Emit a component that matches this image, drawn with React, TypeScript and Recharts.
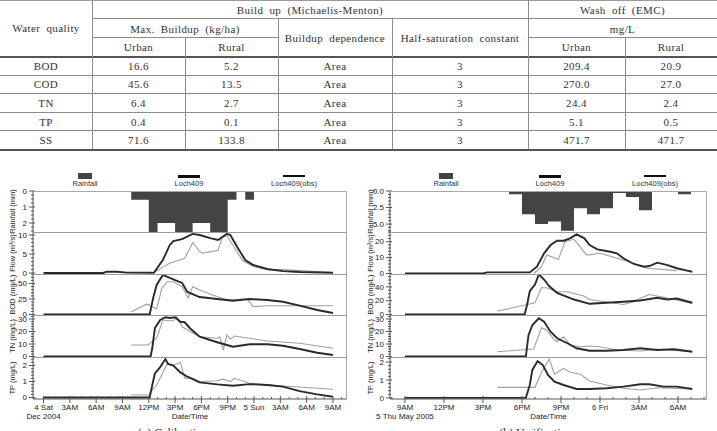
import React from 'react';
import { ComposedChart, Line, Area, XAxis, YAxis } from 'recharts';

type Pt = [number, number];

// ---------- table values ----------
const qualityNames = ['BOD', 'COD', 'TN', 'TP', 'SS'];
const maxBuildupUrban = ['16.6', '45.6', '6.4', '0.4', '71.6'];
const maxBuildupRural = ['5.2', '13.5', '2.7', '0.1', '133.8'];
const buildupDependence = ['Area', 'Area', 'Area', 'Area', 'Area'];
const halfSaturation = ['3', '3', '3', '3', '3'];
const emcUrban = ['209.4', '270.0', '24.4', '5.1', '471.7'];
const emcRural = ['20.9', '27.0', '2.4', '0.5', '471.7'];

// ---------- (a) calibration, hours from 4 Dec 2004 00:00 ----------
const calTickHours = [0, 3, 6, 9, 12, 15, 18, 21, 24, 27, 30, 33];
const calTickLabels = ['4 Sat', '3AM', '6AM', '9AM', '12PM', '3PM', '6PM', '9PM', '5 Sun', '3AM', '6AM', '9AM'];

const calRain: Pt[] = [[9, 0], [10, 0.55], [11, 0.55], [12, 2.6], [13, 2.0], [14, 2.0], [15, 2.6], [16, 2.6], [17, 2.0], [18, 2.0], [19, 2.6], [20, 2.6], [21, 0.55], [22, 0], [23, 0.55], [24, 0], [25, 0]];
const calFlowSim: Pt[] = [[0, 0], [6.8, 0], [7.2, 0.35], [8.4, 0.35], [9.5, 0.1], [12.4, 0.05], [12.6, 0.1], [13.6, 3.4], [14.4, 7.4], [14.8, 8.4], [15.8, 8.9], [17.0, 10.3], [17.8, 10.0], [19.0, 9.2], [19.9, 8.7], [20.9, 10.3], [21.3, 10.0], [22.1, 6.8], [23.0, 3.4], [23.9, 2.1], [25.5, 1.05], [27.3, 0.5], [29.2, 0.26], [33, 0.08]];
const calFlowObs: Pt[] = [[12.5, 0], [14.4, 2.6], [16.1, 3.9], [17.0, 8.0], [18.0, 5.2], [18.8, 5.5], [19.9, 6.0], [20.4, 9.5], [20.9, 9.8], [21.6, 7.3], [22.7, 3.3], [23.9, 1.7], [25.5, 0.9], [27.3, 0.9], [33, 0.15]];
const calBodSim: Pt[] = [[0, 0], [12.1, 0], [12.5, 26.6], [12.9, 47.6], [13.6, 63.7], [14.4, 58.9], [15.0, 55.6], [15.8, 50.8], [16.4, 36.3], [17.8, 28.2], [19.8, 25], [21.6, 22.3], [23.5, 25], [25.5, 23.4], [27.3, 20.6], [29.2, 14.2], [31.2, 7.3], [33, 2.4]];
const calBodObs: Pt[] = [[10, 4.5], [11.8, 17], [12.9, 8.9], [13.5, 42.7], [14.1, 52.9], [14.8, 52.9], [15.8, 44.8], [16.5, 26.6], [17.0, 44.8], [17.8, 39.5], [19.3, 31.5], [20.9, 23.4], [23.2, 25], [23.9, 12.6], [25.5, 14.2], [33, 14.2]];
const calTnSim: Pt[] = [[0, 0], [12.2, 0], [12.4, 6.8], [12.7, 22.8], [13.3, 29.2], [13.9, 31.4], [14.4, 30.8], [15.0, 31.4], [15.6, 27.8], [16.1, 27.4], [16.7, 22.6], [17.8, 15.8], [19.8, 11.4], [21.6, 7.8], [23.5, 9.8], [25.5, 9.8], [27.3, 8.6], [29.2, 6], [31.2, 3], [33, 1.2]];
const calTnObs: Pt[] = [[10, 9.2], [11.9, 9.2], [12.9, 14.6], [13.6, 29.2], [14.8, 28.4], [15.2, 31.8], [15.8, 23.8], [16.4, 21.2], [17.8, 15.8], [19.8, 14.6], [20.1, 15.8], [20.5, 5.2], [20.9, 17.2], [21.3, 14], [21.8, 16.4], [25.5, 12.4], [29.2, 10.6], [33, 6.6]];
const calTpSim: Pt[] = [[0, 0], [12.1, 0], [12.4, 0.78], [12.7, 1.5], [13.3, 1.9], [13.9, 2.4], [14.2, 2.1], [14.8, 2.0], [15.6, 1.57], [16.4, 1.3], [17.8, 0.95], [19.8, 0.82], [21.6, 0.74], [23.5, 0.84], [25.5, 0.78], [27.3, 0.68], [29.2, 0.4], [31.2, 0.2], [33, 0.05]];
const calTpObs: Pt[] = [[10, 0.16], [11.9, 0.16], [12.9, 0.78], [14.1, 2.1], [14.8, 2.0], [15.6, 2.2], [16.1, 1.2], [17.0, 1.2], [17.8, 1.0], [19.8, 1.05], [20.5, 1.15], [21.3, 1.0], [21.8, 1.2], [23.5, 0.89], [27.3, 0.72], [33, 0.52]];

// ---------- (b) verification, hours from 5 May 2005 00:00 ----------
const valTickHours = [9, 12, 15, 18, 21, 24, 27, 30];
const valTickLabels = ['9AM', '12PM', '3PM', '6PM', '9PM', '6 Fri', '3AM', '6AM'];

const valRain: Pt[] = [[16, 0], [17, 0.5], [18, 3.5], [19, 5.0], [20, 4.6], [21, 6.0], [22, 2.6], [23, 3.5], [24, 2.6], [25, 0.3], [26, 0.9], [27, 2.9], [28, 0], [29, 0], [30, 0.5], [31, 0]];
const valFlowSim: Pt[] = [[9, 0], [15, 0], [15.3, 0.7], [18.6, 0.7], [19.15, 4.3], [19.7, 12.7], [20.2, 17.9], [20.7, 20.6], [21.2, 20.6], [21.7, 22.1], [22.2, 24.6], [22.8, 22.1], [23.2, 17.9], [23.8, 15.2], [24.8, 13.7], [25.3, 12.7], [25.8, 9.6], [26.6, 6], [27.4, 4.3], [27.8, 4.7], [28.4, 6.8], [29.2, 5.3], [29.9, 3.3], [30.7, 1.8], [31.1, 1.1]];
const valFlowObs: Pt[] = [[18.9, 0], [19.5, 4.3], [19.9, 11.6], [20.8, 8.9], [21.3, 20], [22.0, 21.5], [23.0, 11.6], [24.0, 12.7], [25.8, 8.5], [27.6, 3.3], [29.9, 1.8]];
const valBodSim: Pt[] = [[9, 0], [18.2, 0], [18.4, 14.5], [18.6, 33.8], [19.0, 43.5], [19.3, 58], [19.7, 50.7], [20.1, 41], [20.7, 31.4], [22.0, 21.7], [23.2, 15.5], [24.5, 17], [25.8, 18.4], [27.1, 20.3], [28.4, 24.2], [29.2, 21.7], [29.9, 23.2], [31.1, 17]];
const valBodObs: Pt[] = [[16.1, 4.8], [18.4, 14.5], [19.0, 17], [19.5, 38.7], [19.9, 38.7], [20.7, 32.9], [21.5, 32.9], [22.8, 26.5], [23.2, 21.7], [25.8, 14.5], [26.6, 18.4], [27.1, 23.6], [27.8, 29], [28.9, 25], [31.1, 16]];
const valTnSim: Pt[] = [[9, 0], [18.3, 0], [18.5, 17], [18.8, 25.2], [19.3, 30.6], [19.7, 27.8], [20.2, 19.8], [20.7, 14.6], [21.5, 10.6], [22.2, 6.6], [23.2, 4.6], [24.5, 4.6], [25.8, 5.2], [27.1, 6.6], [28.4, 5.2], [29.7, 5.8], [31.1, 3.8]];
const valTnObs: Pt[] = [[16.1, 3.8], [18.9, 6], [19.5, 23], [19.9, 21.2], [20.5, 13.2], [20.7, 11.8], [21.2, 15.8], [21.7, 9.2], [22.5, 7.8], [23.2, 8.4], [24.0, 7.8], [25.3, 5.2], [27.1, 4.4], [28.4, 5.8], [31.1, 3.8]];
const valTpSim: Pt[] = [[9, 0], [18.3, 0], [18.6, 0.72], [18.8, 1.56], [19.2, 2.05], [19.6, 1.83], [20.0, 1.28], [20.5, 0.9], [21.2, 0.72], [22.2, 0.5], [23.2, 0.5], [24.5, 0.54], [25.8, 0.63], [27.1, 0.76], [27.8, 0.76], [28.9, 0.63], [29.9, 0.63], [31.1, 0.5]];
const valTpObs: Pt[] = [[16.1, 0.59], [19.0, 0.59], [19.5, 1.43], [20.1, 2.17], [20.5, 1.32], [21.2, 1.65], [21.7, 1.43], [22.5, 1.32], [23.2, 0.94], [24.5, 0.72], [25.8, 0.54], [27.1, 0.44], [28.4, 0.57], [31.1, 0.5]];

const FONT = '"Liberation Sans", Arial, Helvetica, sans-serif';
const SERIF = '"Liberation Serif", "Times New Roman", serif';
const PANEL_Y = [191, 232, 274, 315, 357, 399];
const AXIS_H = 32;

interface PanelDef {
  label: string;
  domain: [number, number];
  majors: number[];
  minor: number;
  decimals?: number;
  reversed?: boolean;
  rain?: Pt[];
  sim?: Pt[];
  obs?: Pt[];
}

interface ChartDef {
  left: number;
  rightMargin: number;
  labelX: number;
  xDomain: [number, number];
  tickHours: number[];
  tickLabels: string[];
  sub: string;
  legend: number[];
  caption: string;
  captionX: number;
  panels: PanelDef[];
}

const calibration: ChartDef = {
  left: 0, rightMargin: 13, labelX: 12.5, xDomain: [-1.2, 34.6],
  tickHours: calTickHours, tickLabels: calTickLabels, sub: 'Dec 2004',
  legend: [85, 189, 294], caption: '(a) Calibration', captionX: 173,
  panels: [
    { label: 'Rainfall (mm)', domain: [0, 2.56], majors: [0, 1, 2], minor: 0.25, reversed: true, rain: calRain },
    { label: 'Flow (m\u00b3/s)', domain: [-0.26, 10.8], majors: [0, 5, 10], minor: 1, sim: calFlowSim, obs: calFlowObs },
    { label: 'BOD (mg/L)', domain: [-0.8, 65.3], majors: [0, 25, 50], minor: 5, sim: calBodSim, obs: calBodObs },
    { label: 'TN (mg/L)', domain: [-0.4, 33.2], majors: [0, 10, 20, 30], minor: 2, sim: calTnSim, obs: calTnObs },
    { label: 'TP (mg/L)', domain: [-0.09, 2.53], majors: [0, 1, 2], minor: 0.2, sim: calTpSim, obs: calTpObs },
  ],
};

const verification: ChartDef = {
  left: 357, rightMargin: 10, labelX: 14, xDomain: [7.85, 32.23],
  tickHours: valTickHours, tickLabels: valTickLabels, sub: '5 Thu May 2005',
  legend: [446, 550, 655], caption: '(b) Verification', captionX: 536,
  panels: [
    { label: 'Rainfall (mm)', domain: [0, 6.2], majors: [0, 2.5, 5], minor: 0.5, decimals: 1, reversed: true, rain: valRain },
    { label: 'Flow (m\u00b3/s)', domain: [-0.31, 26.1], majors: [0, 10, 20], minor: 2, sim: valFlowSim, obs: valFlowObs },
    { label: 'BOD (mg/L)', domain: [-0.7, 58.7], majors: [0, 20, 40], minor: 5, sim: valBodSim, obs: valBodObs },
    { label: 'TN (mg/L)', domain: [-0.4, 33.2], majors: [0, 10, 20, 30], minor: 2, sim: valTnSim, obs: valTnObs },
    { label: 'TP (mg/L)', domain: [-0.06, 2.28], majors: [0, 1, 2], minor: 0.2, sim: valTpSim, obs: valTpObs },
  ],
};

const toRows = (pts: Pt[]) => pts.map(([h, v]) => ({ h, v }));

function Panel({ chart, def, index }: { chart: ChartDef; def: PanelDef; index: number }) {
  const top = PANEL_Y[index];
  const h = PANEL_Y[index + 1] - top;
  const isBottom = index === chart.panels.length - 1;

  const minors: number[] = [];
  for (let v = Math.ceil(def.domain[0] / def.minor) * def.minor; v <= def.domain[1] + 1e-9; v += def.minor) {
    minors.push(+v.toFixed(4));
  }
  const yTicks = Array.from(new Set([...minors, ...def.majors])).sort((a, b) => a - b);
  const xTicks: number[] = [];
  for (let t = Math.ceil(chart.xDomain[0]); t <= chart.xDomain[1]; t++) xTicks.push(t);

  const yTick = (tp: any) => {
    const val = tp.payload.value;
    const major = def.majors.some((m) => Math.abs(m - val) < 1e-6);
    return (
      <g>
        <line x1={tp.x - (major ? 4 : 2)} x2={tp.x + (major ? 2 : 1)} y1={tp.y} y2={tp.y} stroke="#555" />
        {major && (
          <text x={tp.x - 6} y={tp.y} dy="0.33em" textAnchor="end" fontSize={8} fill="#222" fontFamily={FONT}>
            {val.toFixed(def.decimals ?? 0)}
          </text>
        )}
      </g>
    );
  };

  const xTick = (tp: any) => {
    const idx = chart.tickHours.indexOf(Math.round(tp.payload.value));
    const major = idx >= 0;
    return (
      <g>
        <line x1={tp.x} x2={tp.x} y1={tp.y - (major ? 3 : 2)} y2={tp.y + (major ? 4 : 0)} stroke="#555" />
        {major && (
          <text x={tp.x} y={tp.y + 11} textAnchor="middle" fontSize={8} fill="#222" fontFamily={FONT}>
            {chart.tickLabels[idx]}
          </text>
        )}
        {idx === 0 && (
          <text x={tp.x} y={tp.y + 20} textAnchor="middle" fontSize={8} fill="#222" fontFamily={FONT}>
            {chart.sub}
          </text>
        )}
      </g>
    );
  };

  const yLabel = (lp: any) => {
    const vb = lp.viewBox;
    return (
      <text
        transform={`translate(${vb.x + chart.labelX}, ${vb.y + vb.height / 2}) rotate(-90)`}
        textAnchor="middle"
        dy="0.33em"
        fontSize={7.5}
        fill="#222"
        fontFamily={FONT}
      >
        {def.label}
      </text>
    );
  };

  const xLabel = (lp: any) => {
    const vb = lp.viewBox;
    return (
      <text x={vb.x + vb.width / 2} y={vb.y + 20} textAnchor="middle" fontSize={8} fill="#222" fontFamily={FONT}>
        Date/Time
      </text>
    );
  };

  return (
    <div style={{ position: 'absolute', left: 0, top }}>
      <ComposedChart
        width={360}
        height={h + (isBottom ? AXIS_H : 0)}
        margin={{ top: 0, right: chart.rightMargin, bottom: 0, left: 0 }}
      >
        <XAxis
          type="number"
          dataKey="h"
          domain={chart.xDomain}
          allowDataOverflow
          hide={!isBottom}
          height={isBottom ? AXIS_H : 0}
          ticks={xTicks}
          interval={0}
          tickSize={0}
          tickMargin={0}
          tickLine={false}
          axisLine={{ stroke: '#555' }}
          tick={xTick}
          label={isBottom ? xLabel : undefined}
        />
        <YAxis
          type="number"
          dataKey="v"
          domain={def.domain}
          reversed={def.reversed}
          allowDataOverflow
          width={33}
          ticks={yTicks}
          interval={0}
          tickSize={0}
          tickMargin={0}
          tickLine={false}
          axisLine={{ stroke: '#555' }}
          tick={yTick}
          label={yLabel}
        />
        {def.rain && (
          <Area
            data={toRows(def.rain)}
            dataKey="v"
            type="stepAfter"
            baseValue={0}
            fill="#444"
            fillOpacity={1}
            stroke="none"
            isAnimationActive={false}
          />
        )}
        {def.obs && (
          <Line data={toRows(def.obs)} dataKey="v" type="linear" stroke="#a0a0a0" strokeWidth={1.1} dot={false} isAnimationActive={false} />
        )}
        {def.sim && (
          <Line data={toRows(def.sim)} dataKey="v" type="linear" stroke="#2a2a2a" strokeWidth={1.9} dot={false} isAnimationActive={false} />
        )}
      </ComposedChart>
    </div>
  );
}

function SwmmChart({ chart }: { chart: ChartDef }) {
  const plotLeft = 33;
  const plotRight = 360 - chart.rightMargin;
  const lx = chart.legend.map((x) => x - chart.left);
  const txt: React.CSSProperties = {
    position: 'absolute', top: 179, fontSize: 7.5, fontFamily: FONT, color: '#333',
    width: 80, textAlign: 'center', lineHeight: '10px',
  };
  return (
    <div style={{ position: 'absolute', left: chart.left, top: 0, width: 360, height: 431 }}>
      {/* legend */}
      <div style={{ position: 'absolute', left: lx[0] - 7, top: 173, width: 14, height: 6, background: '#444' }} />
      <div style={{ ...txt, left: lx[0] - 40 }}>Rainfall</div>
      <div style={{ position: 'absolute', left: lx[1] - 11, top: 174.5, width: 22, height: 3, background: '#111' }} />
      <div style={{ ...txt, left: lx[1] - 40 }}>Loch409</div>
      <div style={{ position: 'absolute', left: lx[2] - 11, top: 175, width: 22, height: 2, background: '#111' }} />
      <div style={{ ...txt, left: lx[2] - 40 }}>Loch409(obs)</div>

      {chart.panels.map((p, i) => (
        <Panel key={p.label} chart={chart} def={p} index={i} />
      ))}

      {/* frame and panel dividers */}
      <div
        style={{
          position: 'absolute', left: plotLeft, top: PANEL_Y[0], width: plotRight - plotLeft,
          height: PANEL_Y[5] - PANEL_Y[0], borderTop: '1px solid #a8a8a8', borderRight: '1px solid #a8a8a8',
          boxSizing: 'border-box', pointerEvents: 'none',
        }}
      />
      {PANEL_Y.slice(1, 5).map((y) => (
        <div key={y} style={{ position: 'absolute', left: plotLeft, top: y - 0.5, width: plotRight - plotLeft, height: 1.5, background: '#9c9c9c' }} />
      ))}

      <div style={{ position: 'absolute', left: chart.captionX - chart.left - 60, top: 426, width: 120, textAlign: 'center', fontFamily: SERIF, fontSize: 12, color: '#333' }}>
        {chart.caption}
      </div>
    </div>
  );
}

// ---------- table layout ----------
const COLS = [0, 92, 185, 278, 392, 528, 625, 717];
const ROWS = [56.5, 75.1, 93.7, 112.3, 130.9, 149.5];

const cellText: React.CSSProperties = {
  position: 'absolute', display: 'flex', alignItems: 'center', justifyContent: 'center',
  fontFamily: SERIF, fontSize: 11, color: '#333', letterSpacing: 0.4, wordSpacing: 3, whiteSpace: 'nowrap',
};

function Cell({ x0, x1, y0, y1, text }: { x0: number; x1: number; y0: number; y1: number; text: string }) {
  return <div style={{ ...cellText, left: x0, top: y0, width: x1 - x0, height: y1 - y0 }}>{text}</div>;
}

function HLine({ y, x0, x1, w = 1, c = '#8c8c8c' }: { y: number; x0: number; x1: number; w?: number; c?: string }) {
  return <div style={{ position: 'absolute', left: x0, top: y, width: x1 - x0, height: w, background: c }} />;
}

function VLine({ x, y0, y1 }: { x: number; y0: number; y1: number }) {
  return <div style={{ position: 'absolute', left: x, top: y0, width: 1, height: y1 - y0, background: '#8c8c8c' }} />;
}

function ParamTable() {
  const columns = [qualityNames, maxBuildupUrban, maxBuildupRural, buildupDependence, halfSaturation, emcUrban, emcRural];
  return (
    <div style={{ position: 'absolute', left: 0, top: 0, width: 717, height: 152 }}>
      <Cell x0={0} x1={92} y0={0} y1={56} text="Water quality" />
      <Cell x0={92} x1={528} y0={0} y1={19} text="Build up (Michaelis-Menton)" />
      <Cell x0={528} x1={717} y0={0} y1={19} text="Wash off (EMC)" />
      <Cell x0={92} x1={278} y0={19} y1={38} text="Max. Buildup (kg/ha)" />
      <Cell x0={278} x1={392} y0={18} y1={57} text="Buildup dependence" />
      <Cell x0={392} x1={528} y0={18} y1={57} text="Half-saturation constant" />
      <Cell x0={528} x1={717} y0={19} y1={38} text="mg/L" />
      <Cell x0={92} x1={185} y0={37} y1={56} text="Urban" />
      <Cell x0={185} x1={278} y0={37} y1={56} text="Rural" />
      <Cell x0={528} x1={625} y0={37} y1={56} text="Urban" />
      <Cell x0={625} x1={717} y0={37} y1={56} text="Rural" />
      {qualityNames.map((_, r) =>
        columns.map((col, c) => (
          <Cell key={`${r}-${c}`} x0={COLS[c]} x1={COLS[c + 1]} y0={ROWS[r]} y1={ROWS[r + 1]} text={col[r]} />
        ))
      )}
      <HLine y={0} x0={0} x1={717} c="#9a9a9a" />
      <HLine y={18} x0={92} x1={717} />
      <HLine y={37} x0={92} x1={278} />
      <HLine y={37} x0={528} x1={717} />
      <HLine y={55.5} x0={0} x1={717} w={1} c="#555" />
      <HLine y={57} x0={0} x1={717} w={1} c="#555" />
      {ROWS.slice(1, 5).map((y) => (
        <HLine key={y} y={y - 0.5} x0={0} x1={717} />
      ))}
      <HLine y={149} x0={0} x1={717} w={1.5} c="#555" />
      <VLine x={92} y0={0} y1={149} />
      <VLine x={185} y0={37} y1={149} />
      <VLine x={278} y0={18} y1={149} />
      <VLine x={392} y0={18} y1={149} />
      <VLine x={528} y0={0} y1={149} />
      <VLine x={625} y0={37} y1={149} />
    </div>
  );
}

export default function App() {
  return (
    <div style={{ position: 'absolute', left: 0, top: 0, width: 717, height: 431, overflow: 'hidden', background: '#fff' }}>
      <style>{'.recharts-surface{overflow:visible}.recharts-wrapper{overflow:visible}'}</style>
      <ParamTable />
      <SwmmChart chart={calibration} />
      <SwmmChart chart={verification} />
    </div>
  );
}
